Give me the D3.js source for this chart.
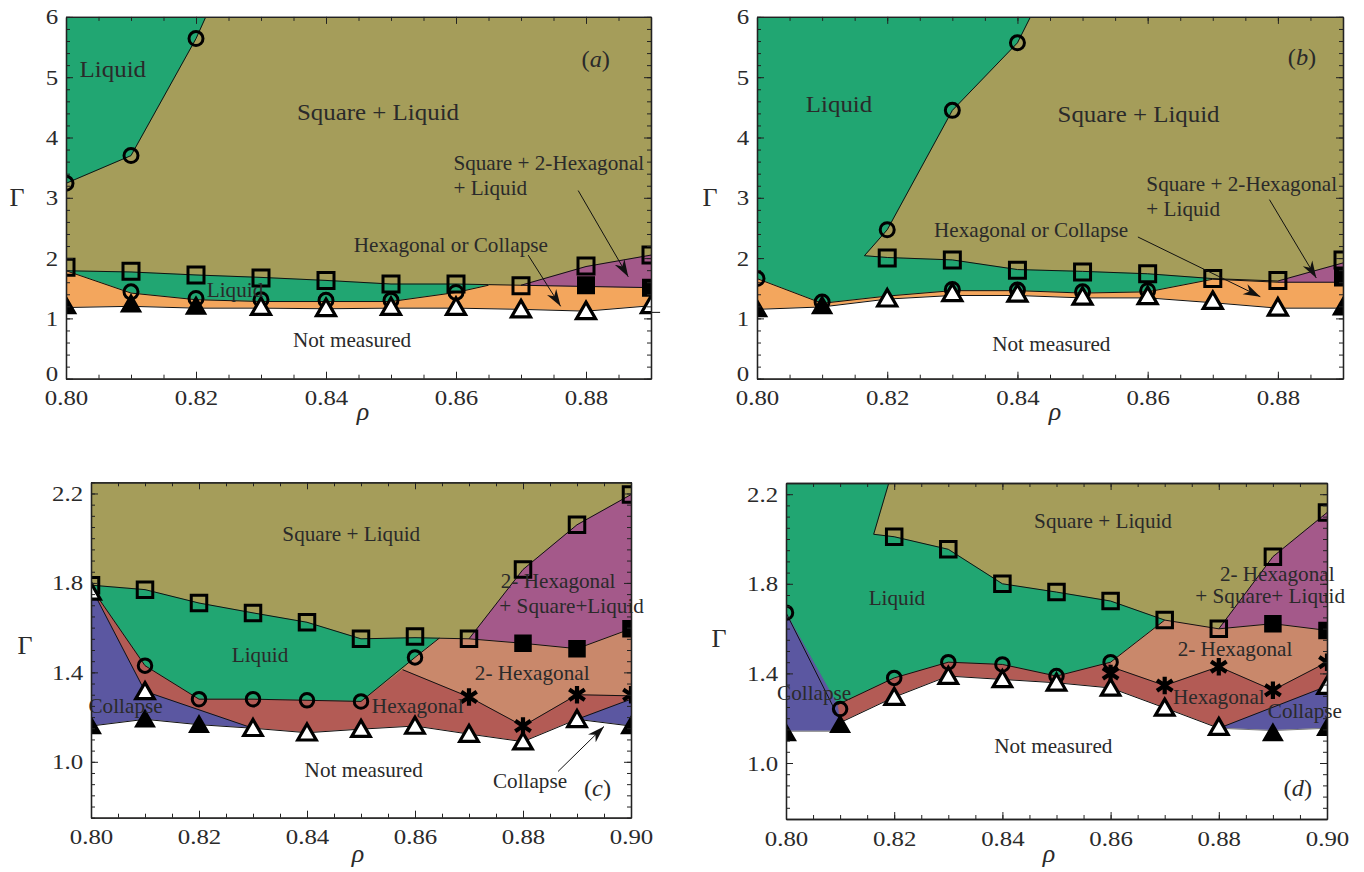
<!DOCTYPE html>
<html>
<head>
<meta charset="utf-8">
<script src="https://cdn.jsdelivr.net/npm/d3@7"></script>
<style>
  body { margin: 0; background: #fff; }
  text { font-family: "Liberation Serif", "Times New Roman", serif; fill: #2a2a2a; }
</style>
</head>
<body>
<svg id="chart" width="1364" height="872"></svg>
<script>
// ---------- panel (a) ----------
const aLiquidTop = [[0.80,3.24],[0.81,3.70],[0.82,5.64],[0.8215,6]];
const aSquareLine = [[0.80,1.79],[0.81,1.77],[0.82,1.72],[0.83,1.68],[0.84,1.63],[0.85,1.57],[0.86,1.57],[0.865,1.56],[0.87,1.55],[0.88,1.86],[0.89,2.05]];
const aCircleLine = [[0.80,1.79],[0.81,1.42],[0.82,1.31],[0.83,1.28],[0.84,1.28],[0.85,1.28],[0.86,1.43],[0.865,1.55]];
const aFilledLine = [[0.87,1.55],[0.88,1.53],[0.89,1.51]];
const aTriangleLine = [[0.80,1.18],[0.81,1.20],[0.82,1.17],[0.83,1.17],[0.84,1.16],[0.85,1.17],[0.86,1.17],[0.87,1.15],[0.88,1.12],[0.89,1.21]];

const aOpenSquares = [[0.80,1.85],[0.81,1.78],[0.82,1.72],[0.83,1.67],[0.84,1.63],[0.85,1.57],[0.86,1.57],[0.87,1.54],[0.88,1.87],[0.89,2.05]];
const aFilledSquares = [[0.88,1.55],[0.89,1.51]];
const aCircles = [[0.80,3.24],[0.81,3.70],[0.82,5.64],[0.81,1.44],[0.82,1.33],[0.83,1.31],[0.84,1.30],[0.85,1.30],[0.86,1.43]];
const aFilledTriangles = [[0.80,1.21],[0.81,1.24],[0.82,1.20]];
const aOpenTriangles = [[0.83,1.19],[0.84,1.17],[0.85,1.19],[0.86,1.19],[0.87,1.15],[0.88,1.12],[0.89,1.22]];

const aLabels = [
  ["Liquid", 0.8072, 5.14, "middle", 23.5],
  ["Square + Liquid", 0.848, 4.43, "middle", 23.5],
  ["Square + 2-Hexagonal", 0.8596, 3.57, "start", 20],
  ["+ Liquid", 0.8596, 3.16, "start", 20],
  ["Hexagonal or Collapse", 0.8592, 2.22, "middle", 20],
  ["Liquid", 0.826, 1.47, "middle", 20],
  ["Not measured", 0.844, 0.64, "middle", 20]
];
const aArrows = [[[0.8788,3.12],[0.8865,1.69]], [[0.8711,2.05],[0.8761,1.20]]];

// ---------- panel (b) ----------
const bLiquidTop = [[0.8165,2.04],[0.82,2.47],[0.83,4.45],[0.84,5.57],[0.842,6]];
const bSquareLine = [[0.8165,2.04],[0.82,2.01],[0.83,1.97],[0.84,1.81],[0.85,1.78],[0.86,1.74],[0.87,1.66],[0.88,1.62],[0.89,1.92]];
const bCircleLine = [[0.80,1.66],[0.81,1.25],[0.82,1.37],[0.83,1.46],[0.84,1.46],[0.85,1.42],[0.86,1.44],[0.87,1.65]];
const bFilledLine = [[0.87,1.65],[0.88,1.60],[0.89,1.60]];
const bTriangleLine = [[0.80,1.15],[0.81,1.19],[0.82,1.32],[0.83,1.38],[0.84,1.38],[0.85,1.34],[0.86,1.34],[0.87,1.26],[0.88,1.17],[0.89,1.17]];

const bOpenSquares = [[0.82,2.00],[0.83,1.97],[0.84,1.80],[0.85,1.77],[0.86,1.74],[0.87,1.66],[0.88,1.63],[0.89,1.97]];
const bFilledSquares = [[0.89,1.68]];
const bCircles = [[0.80,1.66],[0.81,1.27],[0.82,2.47],[0.83,4.45],[0.84,5.57],[0.83,1.48],[0.84,1.47],[0.85,1.44],[0.86,1.46]];
const bFilledTriangles = [[0.80,1.16],[0.81,1.21],[0.89,1.19]];
const bOpenTriangles = [[0.82,1.33],[0.83,1.42],[0.84,1.41],[0.85,1.36],[0.86,1.37],[0.87,1.29],[0.88,1.18]];

const bLabels = [
  ["Liquid", 0.8126, 4.56, "middle", 23.5],
  ["Square + Liquid", 0.8586, 4.40, "middle", 23.5],
  ["Square + 2-Hexagonal", 0.8598, 3.23, "start", 20],
  ["+ Liquid", 0.8598, 2.81, "start", 20],
  ["Hexagonal or Collapse", 0.8421, 2.46, "middle", 20],
  ["Not measured", 0.8452, 0.58, "middle", 20]
];
const bArrows = [[[0.8585,2.35],[0.8773,1.36]], [[0.8787,2.97],[0.8859,1.67]]];

// ---------- panel (c) ----------
const cSquareLine = [[0.80,1.79],[0.81,1.77],[0.82,1.71],[0.83,1.666],[0.84,1.624],[0.85,1.55],[0.86,1.555],[0.87,1.55],[0.88,1.86],[0.89,2.06],[0.90,2.195]];
const cCircleLine = [[0.80,1.78],[0.81,1.43],[0.82,1.28],[0.83,1.28],[0.84,1.275],[0.85,1.27],[0.86,1.467],[0.8645,1.553]];
const cFilledLine = [[0.87,1.55],[0.88,1.53],[0.89,1.506],[0.90,1.595]];
const cStarLine = [[0.8577,1.412],[0.87,1.29],[0.88,1.16],[0.89,1.30],[0.90,1.295]];
const cCollapseLine = [[0.80,1.78],[0.81,1.315],[0.83,1.15]];
const cCollapseRight = [[0.89,1.19],[0.90,1.28]];
const cTriangleLine = [[0.80,1.16],[0.81,1.19],[0.82,1.166],[0.83,1.15],[0.84,1.13],[0.85,1.146],[0.86,1.16],[0.87,1.124],[0.88,1.09],[0.89,1.19],[0.90,1.16]];

const cOpenSquares = [[0.80,1.79],[0.81,1.77],[0.82,1.71],[0.83,1.666],[0.84,1.624],[0.85,1.55],[0.86,1.56],[0.87,1.55],[0.88,1.86],[0.89,2.06],[0.90,2.195]];
const cFilledSquares = [[0.88,1.53],[0.89,1.506],[0.90,1.595]];
const cCircles = [[0.81,1.43],[0.82,1.28],[0.83,1.28],[0.84,1.275],[0.85,1.27],[0.86,1.467]];
const cStars = [[0.87,1.29],[0.88,1.16],[0.89,1.30],[0.90,1.30]];
const cFilledTriangles = [[0.80,1.16],[0.81,1.19],[0.82,1.166],[0.90,1.16]];
const cOpenTriangles = [[0.80,1.76],[0.81,1.315],[0.83,1.15],[0.84,1.13],[0.85,1.146],[0.86,1.16],[0.87,1.124],[0.88,1.09],[0.89,1.19]];

const cLabels = [
  ["Square + Liquid", 0.8482, 2.02, "middle", 20],
  ["Liquid", 0.8313, 1.479, "middle", 20],
  ["Collapse", 0.8064, 1.248, "middle", 20],
  ["Hexagonal", 0.8605, 1.248, "middle", 20],
  ["2- Hexagonal", 0.8817, 1.397, "middle", 20],
  ["2- Hexagonal", 0.8865, 1.807, "middle", 20],
  ["+ Square+Liquid", 0.889, 1.696, "middle", 20],
  ["Not measured", 0.8505, 0.964, "middle", 20],
  ["Collapse", 0.8813, 0.912, "middle", 20]
];
const cArrows = [[[0.8865,0.957],[0.895,1.158]]];

// ---------- panel (d) ----------
const dLiquidTop = [[0.819,2.25],[0.8162,2.021]];
const dSquareLine = [[0.8162,2.021],[0.82,2.01],[0.83,1.954],[0.84,1.80],[0.85,1.763],[0.86,1.723],[0.87,1.638],[0.88,1.599],[0.89,1.921],[0.90,2.118]];
const dCollapseLine = [[0.80,1.671],[0.81,1.19]];
const dCircleLine = [[0.8095,1.26],[0.82,1.38],[0.83,1.45],[0.84,1.44],[0.85,1.388],[0.86,1.45],[0.87,1.638]];
const dFilledLine = [[0.88,1.599],[0.89,1.622],[0.90,1.592]];
const dStarLine = [[0.86,1.43],[0.87,1.346],[0.88,1.43],[0.89,1.325],[0.90,1.45]];
const dTriangleLine = [[0.81,1.18],[0.82,1.294],[0.83,1.388],[0.84,1.373],[0.85,1.358],[0.86,1.335],[0.87,1.246],[0.88,1.155]];
const dCollapseRight = [[0.88,1.155],[0.90,1.343]];
const dBaseLeft = [[0.80,1.142],[0.81,1.142]];
const dBaseRight = [[0.88,1.155],[0.89,1.145],[0.90,1.155]];

const dOpenSquares = [[0.82,2.01],[0.83,1.954],[0.84,1.80],[0.85,1.763],[0.86,1.723],[0.87,1.638],[0.88,1.599],[0.89,1.921],[0.90,2.118]];
const dFilledSquares = [[0.89,1.622],[0.90,1.592]];
const dCircles = [[0.80,1.671],[0.81,1.241],[0.82,1.38],[0.83,1.45],[0.84,1.44],[0.85,1.388],[0.86,1.45]];
const dStars = [[0.86,1.40],[0.87,1.346],[0.88,1.43],[0.89,1.325],[0.90,1.45]];
const dFilledTriangles = [[0.80,1.134],[0.81,1.171],[0.89,1.134],[0.90,1.157]];
const dOpenTriangles = [[0.82,1.294],[0.83,1.388],[0.84,1.373],[0.85,1.358],[0.86,1.335],[0.87,1.246],[0.88,1.16],[0.90,1.343]];

const dLabels = [
  ["Square + Liquid", 0.8586, 2.081, "middle", 20],
  ["Liquid", 0.8205, 1.738, "middle", 20],
  ["Collapse", 0.8052, 1.313, "middle", 20],
  ["2- Hexagonal", 0.883, 1.507, "middle", 20],
  ["2- Hexagonal", 0.8908, 1.842, "middle", 20],
  ["+ Square+ Liquid", 0.8895, 1.745, "middle", 20],
  ["Hexagonal", 0.880, 1.294, "middle", 20],
  ["Collapse", 0.8959, 1.231, "middle", 20],
  ["Not measured", 0.8494, 1.075, "middle", 20]
];

const colors = {
  olive: "#a59d5a", green: "#21a672", orange: "#f3a65d", purple: "#a4598a",
  brown: "#c9886b", red: "#b35b55", blue: "#5b57a1", white: "#ffffff"
};

const rev = a => a.slice().reverse();

const panels = [
  {
    key: "a", xRange: [66, 651], yRange: [378.7, 16.9], xDomain: [0.80, 0.89], yDomain: [0, 6],
    yMajor: [0,1,2,3,4,5,6], yMinorStep: 0.2, yFmt: d3.format("d"),
    letter: [0.8815, 5.31], gammaPos: [17, 197], rhoPos: [363, 412], markSize: 16,
    regions: [
      [colors.green, [[0.80,6]].concat(rev(aLiquidTop))],
      [colors.green, aSquareLine.slice(0, 8).concat(rev(aCircleLine))],
      [colors.orange, aCircleLine.concat(aFilledLine, rev(aTriangleLine))],
      [colors.purple, [[0.87,1.55],[0.88,1.86],[0.89,2.05]].concat(rev(aFilledLine))],
      [colors.white, aTriangleLine.concat([[0.89,0],[0.80,0]])]
    ],
    lines: [aLiquidTop, aSquareLine, aCircleLine, aFilledLine, aTriangleLine],
    openSquares: aOpenSquares, filledSquares: aFilledSquares, circles: aCircles,
    filledTriangles: aFilledTriangles, openTriangles: aOpenTriangles, stars: [],
    labels: aLabels, arrows: aArrows,
    stray: [[0.89,1.1],[0.8914,1.1]]
  },
  {
    key: "b", xRange: [757, 1343], yRange: [378.7, 16.9], xDomain: [0.80, 0.89], yDomain: [0, 6],
    yMajor: [0,1,2,3,4,5,6], yMinorStep: 0.2, yFmt: d3.format("d"),
    letter: [0.8837, 5.34], gammaPos: [710, 197], rhoPos: [1055, 412], markSize: 16,
    regions: [
      [colors.green, [[0.80,6]].concat(rev(bLiquidTop), bSquareLine.slice(1, 7), rev(bCircleLine))],
      [colors.orange, bCircleLine.concat(bFilledLine.slice(1), rev(bTriangleLine))],
      [colors.purple, [[0.88,1.62],[0.89,1.92],[0.89,1.60],[0.88,1.60]]],
      [colors.white, bTriangleLine.concat([[0.89,0],[0.80,0]])]
    ],
    lines: [bLiquidTop, bSquareLine, bCircleLine, bFilledLine, bTriangleLine],
    openSquares: bOpenSquares, filledSquares: bFilledSquares, circles: bCircles,
    filledTriangles: bFilledTriangles, openTriangles: bOpenTriangles, stars: [],
    labels: bLabels, arrows: bArrows
  },
  {
    key: "c", xRange: [91, 631], yRange: [817.7, 482.3], xDomain: [0.80, 0.90], yDomain: [0.75, 2.25],
    yMajor: [1.0,1.4,1.8,2.2], yMinorStep: 0.05, yFmt: d3.format(".1f"),
    letter: [0.8938, 0.882], gammaPos: [25, 645], rhoPos: [358, 854], markSize: 15.5,
    regions: [
      [colors.green, cSquareLine.slice(0, 7).concat(rev(cCircleLine))],
      [colors.purple, cSquareLine.slice(7).concat(rev(cFilledLine))],
      [colors.brown, [[0.8577,1.412],[0.86,1.467],[0.8645,1.553]].concat(cFilledLine, rev(cStarLine))],
      [colors.red, cCircleLine.slice(0, 6).concat(cStarLine, rev(cCollapseRight), rev(cTriangleLine.slice(3, 9)), [[0.81,1.315]])],
      [colors.blue, cCollapseLine.concat([[0.82,1.166],[0.81,1.19],[0.80,1.16]])],
      [colors.blue, cCollapseRight.concat([[0.90,1.16]])],
      [colors.white, cTriangleLine.concat([[0.90,0.75],[0.80,0.75]])]
    ],
    lines: [cSquareLine, cCircleLine, cFilledLine, cStarLine, cCollapseLine, cCollapseRight, cTriangleLine],
    openSquares: cOpenSquares, filledSquares: cFilledSquares, circles: cCircles,
    filledTriangles: cFilledTriangles, openTriangles: cOpenTriangles, stars: cStars,
    labels: cLabels, arrows: cArrows
  },
  {
    key: "d", xRange: [786, 1327], yRange: [819, 483], xDomain: [0.80, 0.90], yDomain: [0.75, 2.25],
    yMajor: [1.0,1.4,1.8,2.2], yMinorStep: 0.05, yFmt: d3.format(".1f"),
    letter: [0.8946, 0.888], gammaPos: [719, 638], rhoPos: [1049, 854], markSize: 15.5,
    regions: [
      [colors.green, [[0.80,2.25]].concat(dLiquidTop, dSquareLine.slice(1, 7), rev(dCircleLine.slice(0, 6)), [[0.80,1.671]])],
      [colors.purple, dSquareLine.slice(7).concat(rev(dFilledLine))],
      [colors.brown, [[0.86,1.45],[0.87,1.638]].concat(dFilledLine, rev(dStarLine))],
      [colors.red, dCircleLine.slice(0, 6).concat(dStarLine, [[0.90,1.343]], rev(dTriangleLine))],
      [colors.blue, [[0.80,1.671],[0.8095,1.26],[0.81,1.18],[0.81,1.142],[0.80,1.142]]],
      [colors.blue, dCollapseRight.concat(rev(dBaseRight))],
      [colors.white, dBaseLeft.concat(dTriangleLine, dBaseRight.slice(1), [[0.90,0.75],[0.80,0.75]])]
    ],
    lines: [dLiquidTop, dSquareLine, dCollapseLine, dCircleLine, dFilledLine, dStarLine, dTriangleLine, dCollapseRight],
    faintLines: [dBaseLeft, dBaseRight],
    openSquares: dOpenSquares, filledSquares: dFilledSquares, circles: dCircles,
    filledTriangles: dFilledTriangles, openTriangles: dOpenTriangles, stars: dStars,
    labels: dLabels, arrows: []
  }
];

const svg = d3.select("#chart");

svg.append("defs").append("marker")
  .attr("id", "arrowhead")
  .attr("markerUnits", "userSpaceOnUse")
  .attr("markerWidth", 18).attr("markerHeight", 12)
  .attr("refX", 17).attr("refY", 6)
  .attr("orient", "auto")
  .append("path")
  .attr("d", "M0,0.5 L17,6 L0,11.5 L5,6 Z")
  .attr("fill", "#111");

panels.forEach(drawPanel);

function drawPanel(p) {
  const x = d3.scaleLinear().domain(p.xDomain).range(p.xRange);
  const y = d3.scaleLinear().domain(p.yDomain).range(p.yRange);
  const line = d3.line().x(d => x(d[0])).y(d => y(d[1]));
  const g = svg.append("g").attr("class", "panel-" + p.key);

  const clipId = "clip-" + p.key;
  g.append("clipPath").attr("id", clipId)
    .append("rect")
    .attr("x", p.xRange[0]).attr("y", p.yRange[1])
    .attr("width", p.xRange[1] - p.xRange[0])
    .attr("height", p.yRange[0] - p.yRange[1]);

  const plot = g.append("g").attr("clip-path", `url(#${clipId})`);

  // background phase (Square + Liquid)
  plot.append("rect")
    .attr("x", p.xRange[0]).attr("y", p.yRange[1])
    .attr("width", p.xRange[1] - p.xRange[0])
    .attr("height", p.yRange[0] - p.yRange[1])
    .attr("fill", colors.olive);

  p.regions.forEach(([fill, poly]) => {
    plot.append("path")
      .attr("d", line(poly) + "Z")
      .attr("fill", fill)
      .attr("stroke", fill)
      .attr("stroke-width", 0.6);
  });

  (p.faintLines || []).forEach(l => {
    plot.append("path").attr("d", line(l))
      .attr("fill", "none").attr("stroke", "#777").attr("stroke-width", 1);
  });

  p.lines.forEach(l => {
    plot.append("path").attr("d", line(l))
      .attr("fill", "none").attr("stroke", "#111").attr("stroke-width", 1);
  });

  if (p.stray) {
    g.append("path").attr("d", line(p.stray))
      .attr("fill", "none").attr("stroke", "#111").attr("stroke-width", 1);
  }

  // region labels
  p.labels.forEach(([t, lx, ly, anchor, size]) => {
    g.append("text")
      .attr("transform", `translate(${x(lx)},${y(ly)}) scale(1.06,1)`)
      .attr("text-anchor", anchor)
      .attr("dy", "0.35em")
      .attr("font-size", size)
      .text(t);
  });

  // panel letter
  const lt = g.append("text")
    .attr("transform", `translate(${x(p.letter[0])},${y(p.letter[1])}) scale(1.06,1)`)
    .attr("text-anchor", "middle")
    .attr("dy", "0.35em")
    .attr("font-size", 23);
  lt.append("tspan").text("(");
  lt.append("tspan").attr("font-style", "italic").text(p.key);
  lt.append("tspan").text(")");

  // arrows
  p.arrows.forEach(a => {
    g.append("path").attr("d", line(a))
      .attr("fill", "none").attr("stroke", "#111").attr("stroke-width", 1)
      .attr("marker-end", "url(#arrowhead)");
  });

  // markers
  const s = p.markSize, h = s / 2;
  const mk = plot.append("g");
  const sq = `M${-h},${-h}h${s}v${s}h${-s}Z`;
  const tri = `M0,${-h - 1}L${h + 1.5},${h - 0.5}L${-h - 1.5},${h - 0.5}Z`;
  const sh = h + 1;
  const star = `M0,${-sh}V${sh}M${-sh + 1},${-sh * 0.6}L${sh - 1},${sh * 0.6}M${-sh + 1},${sh * 0.6}L${sh - 1},${-sh * 0.6}`;

  mk.selectAll(".osq").data(p.openSquares).join("path")
    .attr("transform", d => `translate(${x(d[0])},${y(d[1])})`)
    .attr("d", sq).attr("fill", "none").attr("stroke", "#000").attr("stroke-width", 3);
  mk.selectAll(".fsq").data(p.filledSquares).join("path")
    .attr("transform", d => `translate(${x(d[0])},${y(d[1])})`)
    .attr("d", sq).attr("fill", "#000").attr("stroke", "#000").attr("stroke-width", 2);
  mk.selectAll(".circ").data(p.circles).join("circle")
    .attr("cx", d => x(d[0])).attr("cy", d => y(d[1])).attr("r", h - 1)
    .attr("fill", "none").attr("stroke", "#000").attr("stroke-width", 3);
  mk.selectAll(".ftri").data(p.filledTriangles).join("path")
    .attr("transform", d => `translate(${x(d[0])},${y(d[1])})`)
    .attr("d", tri).attr("fill", "#000").attr("stroke", "#000").attr("stroke-width", 2);
  mk.selectAll(".otri").data(p.openTriangles).join("path")
    .attr("transform", d => `translate(${x(d[0])},${y(d[1])})`)
    .attr("d", tri).attr("fill", "#fff").attr("stroke", "#000").attr("stroke-width", 3.2)
    .attr("stroke-linejoin", "miter");
  mk.selectAll(".star").data(p.stars).join("path")
    .attr("transform", d => `translate(${x(d[0])},${y(d[1])})`)
    .attr("d", star).attr("fill", "none").attr("stroke", "#000").attr("stroke-width", 4.2);

  // axes / frame
  const xMajor = d3.range(p.xDomain[0], p.xDomain[1] + 1e-9, 0.02);
  const xMinor = d3.range(p.xDomain[0], p.xDomain[1] + 1e-9, 0.005);
  const yMinor = d3.range(p.yDomain[0], p.yDomain[1] + 1e-9, p.yMinorStep);
  const [x0, x1] = p.xRange, [yb, yt] = p.yRange;

  const styleText = sel => sel.selectAll("text")
    .attr("font-size", 22)
    .attr("font-family", "Liberation Serif, Times New Roman, serif")
    .attr("fill", "#333")
    .attr("transform", "scale(1.13,1)");

  const axes = g.append("g").attr("color", "#222");

  axes.append("g").attr("transform", `translate(0,${yb})`)
    .call(d3.axisBottom(x).tickValues(xMinor).tickSize(-4).tickSizeOuter(0).tickFormat(""));
  axes.append("g").attr("transform", `translate(0,${yb})`)
    .call(d3.axisBottom(x).tickValues(xMajor).tickSize(-7).tickSizeOuter(0)
      .tickPadding(11).tickFormat(d3.format(".2f")))
    .call(styleText);
  axes.append("g").attr("transform", `translate(0,${yt})`)
    .call(d3.axisTop(x).tickValues(xMinor).tickSize(-4).tickSizeOuter(0).tickFormat(""));
  axes.append("g").attr("transform", `translate(0,${yt})`)
    .call(d3.axisTop(x).tickValues(xMajor).tickSize(-7).tickSizeOuter(0).tickFormat(""));

  axes.append("g").attr("transform", `translate(${x0},0)`)
    .call(d3.axisLeft(y).tickValues(yMinor).tickSize(-4).tickSizeOuter(0).tickFormat(""));
  axes.append("g").attr("transform", `translate(${x0},0)`)
    .call(d3.axisLeft(y).tickValues(p.yMajor).tickSize(-7).tickSizeOuter(0)
      .tickPadding(7).tickFormat(p.yFmt))
    .call(styleText);
  axes.append("g").attr("transform", `translate(${x1},0)`)
    .call(d3.axisRight(y).tickValues(yMinor).tickSize(-4).tickSizeOuter(0).tickFormat(""));
  axes.append("g").attr("transform", `translate(${x1},0)`)
    .call(d3.axisRight(y).tickValues(p.yMajor).tickSize(-7).tickSizeOuter(0).tickFormat(""));

  axes.selectAll(".domain").attr("stroke-width", 1.3);

  // y tick label "0" sits just above the first x label; lift it slightly to keep them apart
  axes.selectAll("text").filter(d => d === 0).attr("dy", "0.1em");

  // axis titles
  g.append("text")
    .attr("x", p.gammaPos[0]).attr("y", p.gammaPos[1])
    .attr("text-anchor", "middle").attr("dy", "0.35em")
    .attr("font-size", 26)
    .text("Γ");
  g.append("text")
    .attr("x", p.rhoPos[0]).attr("y", p.rhoPos[1])
    .attr("text-anchor", "middle").attr("dy", "0.3em")
    .attr("font-size", 26).attr("font-style", "italic")
    .text("ρ");
}
</script>
</body>
</html>
